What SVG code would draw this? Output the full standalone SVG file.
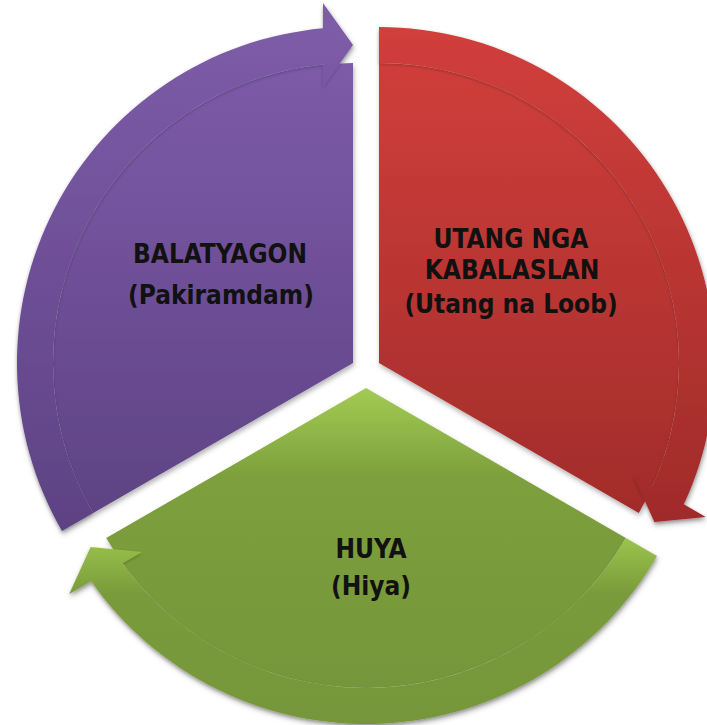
<svg xmlns="http://www.w3.org/2000/svg" width="707" height="725" viewBox="0 0 707 725">
  <defs>
    <linearGradient id="gPurplePie" x1="0" y1="0" x2="0" y2="1">
      <stop offset="0" stop-color="#7c5ba8"/>
      <stop offset="1" stop-color="#5e4384"/>
    </linearGradient>
    <linearGradient id="gPurpleBand" x1="0" y1="0" x2="0" y2="1">
      <stop offset="0" stop-color="#7e5daa"/>
      <stop offset="1" stop-color="#5d4283"/>
    </linearGradient>
    <linearGradient id="gRedPie" x1="0" y1="0" x2="0" y2="1">
      <stop offset="0" stop-color="#cf3e3a"/>
      <stop offset="1" stop-color="#a22c2b"/>
    </linearGradient>
    <linearGradient id="gRedBand" x1="0" y1="0" x2="0" y2="1">
      <stop offset="0" stop-color="#d13f3b"/>
      <stop offset="1" stop-color="#a02b2a"/>
    </linearGradient>
    <linearGradient id="gGreenPie" x1="0" y1="0" x2="0" y2="1">
      <stop offset="0" stop-color="#a3cb54"/>
      <stop offset="0.3" stop-color="#7d9f3c"/>
      <stop offset="1" stop-color="#76963a"/>
    </linearGradient>
    <linearGradient id="gGreenBand" x1="0" y1="0" x2="0" y2="1">
      <stop offset="0" stop-color="#9bc44c"/>
      <stop offset="0.3" stop-color="#7a9b3b"/>
      <stop offset="1" stop-color="#76963a"/>
    </linearGradient>
    <filter id="shadow" x="-10%" y="-10%" width="120%" height="120%">
      <feDropShadow dx="1" dy="3" stdDeviation="2.5" flood-color="#000" flood-opacity="0.3"/>
    </filter>
    <filter id="bandShadow" x="-10%" y="-10%" width="120%" height="120%">
      <feDropShadow dx="0" dy="1.5" stdDeviation="1.5" flood-color="#000" flood-opacity="0.2"/>
    </filter>
  </defs>
  <style>
    .lbl { font-family: "DejaVu Sans Condensed", "DejaVu Sans", sans-serif; font-weight: bold; font-size: 26px; fill: #111; text-anchor: middle; }
  </style>

  <rect width="707" height="725" fill="#ffffff"/>

  <g id="node-balatyagon" filter="url(#shadow)">
    <path fill="url(#gPurplePie)" d="M353,363 L93.19,513 A300,300 0 0 1 353,63 Z"/>
    <path fill="url(#gPurpleBand)" filter="url(#bandShadow)" d="M62.02,531 A336,336 0 0 1 323,28.34 L323,3 L353,45 L323,87 L323,64.5 A300,300 0 0 0 93.19,513 Z"/>
  </g>

  <g id="node-utang" filter="url(#shadow)">
    <path fill="url(#gRedPie)" d="M379,363 L379,63 A300,300 0 0 1 638.81,513 Z"/>
    <path fill="url(#gRedBand)" filter="url(#bandShadow)" d="M379,27 A336,336 0 0 1 683.82,504.35 L705.77,517.02 L654.40,522 L633.02,475.02 L652.51,486.27 A300,300 0 0 0 379,63 Z"/>
  </g>

  <g id="node-huya" filter="url(#shadow)">
    <path fill="url(#gGreenPie)" d="M366,388 L625.81,538 A300,300 0 0 1 106.19,538 Z"/>
    <path fill="url(#gGreenBand)" filter="url(#bandShadow)" d="M656.98,556 A336,336 0 0 1 91.18,581.31 L69.23,593.98 L90.60,547 L141.98,551.98 L122.49,563.23 A300,300 0 0 0 625.81,538 Z"/>
  </g>

  <g id="connectors"/>

  <g id="labels">
    <text class="lbl" x="220" y="263">BALATYAGON</text>
    <text class="lbl" x="221" y="304">(Pakiramdam)</text>
    <text class="lbl" x="511" y="248">UTANG NGA</text>
    <text class="lbl" x="512" y="279">KABALASLAN</text>
    <text class="lbl" x="511" y="313">(Utang na Loob)</text>
    <text class="lbl" x="371" y="558">HUYA</text>
    <text class="lbl" x="371" y="595">(Hiya)</text>
  </g>
</svg>
